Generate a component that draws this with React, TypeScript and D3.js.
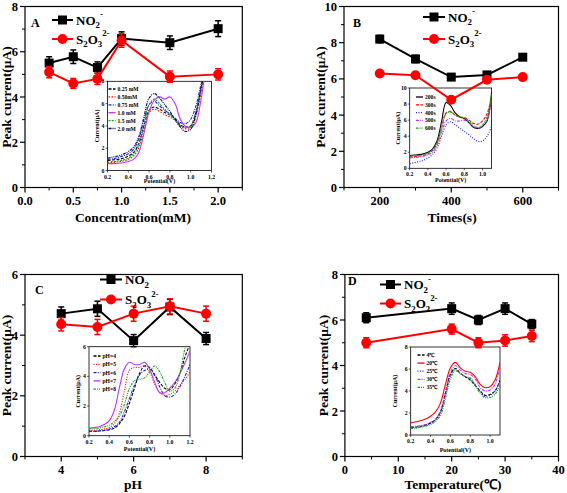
import React from "react";
import * as d3 from "d3";

// ---------- main panel data ----------
const concX = [0.25, 0.5, 0.75, 1.0, 1.5, 2.0];
const concNO2 = [5.5, 5.78, 5.3, 6.58, 6.4, 7.02];
const concNO2Err = [0.28, 0.3, 0.25, 0.3, 0.3, 0.35];
const concS2O3 = [5.1, 4.6, 4.8, 6.5, 4.9, 5.0];
const concS2O3Err = [0.25, 0.22, 0.25, 0.3, 0.25, 0.25];

const timeX = [200, 300, 400, 500, 600];
const timeNO2 = [8.2, 7.1, 6.1, 6.22, 7.2];
const timeNO2Err = [0.2, 0.2, 0.15, 0.15, 0.15];
const timeS2O3 = [6.3, 6.2, 4.85, 5.95, 6.1];
const timeS2O3Err = [0.12, 0.12, 0.15, 0.12, 0.12];

const phX = [4, 5, 6, 7, 8];
const phNO2 = [4.71, 4.87, 3.82, 4.93, 3.89];
const phNO2Err = [0.22, 0.25, 0.2, 0.25, 0.2];
const phS2O3 = [4.36, 4.27, 4.71, 4.95, 4.71];
const phS2O3Err = [0.22, 0.25, 0.25, 0.25, 0.25];

const tempX = [4, 20, 25, 30, 35];
const tempNO2 = [6.1, 6.5, 6.0, 6.5, 5.82];
const tempNO2Err = [0.22, 0.25, 0.2, 0.25, 0.2];
const tempS2O3 = [5.0, 5.6, 5.0, 5.1, 5.3];
const tempS2O3Err = [0.22, 0.22, 0.22, 0.25, 0.25];

// ---------- tick labels ----------
const concTicks = [0, 0.5, 1.0, 1.5, 2.0];
const timeTicks = [200, 400, 600];
const phTicks = [4, 6, 8];
const tempTicks = [0, 10, 20, 30, 40];

// ---------- inset data ----------
const gridA = [0.2, 0.25, 0.3, 0.35, 0.4, 0.45, 0.5, 0.55, 0.6, 0.65, 0.7, 0.75, 0.8, 0.85, 0.9, 0.95, 1.0, 1.05, 1.1, 1.15, 1.2];
const gridB = [0.2, 0.25, 0.3, 0.35, 0.4, 0.45, 0.5, 0.55, 0.6, 0.65, 0.7, 0.75, 0.8, 0.85, 0.9, 0.95, 1.0, 1.05, 1.1];

const concLabels = ["0.25 mM", "0.50mM", "0.75 mM", "1.0 mM", "1.5 mM", "2.0 mM"];
const cv025 = [0.9, 0.95, 1.0, 1.1, 1.3, 1.6, 2.4, 4.0, 5.4, 5.7, 5.5, 5.2, 5.0, 4.6, 4.1, 3.9, 4.0, 5.2, 7.3, 10, 12];
const cv050 = [0.7, 0.72, 0.78, 0.85, 1.0, 1.3, 2.0, 3.6, 5.2, 5.5, 5.3, 5.0, 4.8, 4.5, 4.0, 3.75, 3.8, 4.9, 7.0, 9.5, 12];
const cv075 = [1.0, 1.05, 1.15, 1.3, 1.5, 1.9, 2.8, 4.5, 5.9, 6.2, 5.8, 5.4, 5.1, 4.7, 4.3, 4.2, 4.6, 5.8, 7.8, 10, 12];
const cv100 = [0.6, 0.62, 0.65, 0.7, 0.8, 1.0, 1.6, 3.3, 5.3, 6.3, 6.6, 6.4, 6.6, 6.0, 4.6, 3.95, 3.85, 4.3, 6.4, 9.5, 12];
const cv150 = [0.75, 0.8, 0.85, 0.95, 1.1, 1.5, 2.3, 4.0, 5.9, 6.4, 6.0, 5.5, 5.0, 4.5, 4.0, 3.85, 4.0, 5.3, 7.6, 10, 12];
const cv200 = [1.1, 1.2, 1.3, 1.45, 1.7, 2.1, 3.0, 4.8, 6.5, 6.9, 6.5, 5.9, 5.3, 4.6, 3.9, 3.5, 3.7, 5.0, 7.5, 10, 12];

const timeLabels = ["200s", "300s", "400s", "500s", "600s"];
const cv200s = [1.6, 1.65, 1.7, 1.8, 2.0, 2.4, 3.4, 5.8, 8.2, 7.8, 6.9, 6.4, 6.2, 5.7, 5.1, 4.95, 5.2, 5.9, 9.5];
const cv300s = [1.4, 1.45, 1.5, 1.6, 1.8, 2.2, 3.1, 5.0, 6.9, 7.1, 6.6, 6.4, 6.3, 6.0, 5.6, 5.5, 5.9, 6.8, 9.0];
const cv400s = [0.6, 0.7, 0.85, 1.0, 1.3, 1.7, 2.5, 4.0, 5.4, 5.8, 5.4, 5.0, 4.6, 4.2, 3.7, 3.35, 3.4, 4.0, 5.2];
const cv500s = [1.3, 1.35, 1.4, 1.5, 1.7, 2.0, 2.8, 4.4, 5.9, 6.2, 5.9, 5.9, 6.0, 5.7, 5.2, 5.0, 5.3, 6.0, 8.5];
const cv600s = [1.5, 1.55, 1.6, 1.7, 1.9, 2.3, 3.2, 5.0, 6.8, 7.0, 6.6, 6.4, 6.3, 5.9, 5.3, 5.1, 5.4, 6.4, 9.2];

const phLabels = ["pH=4", "pH=5", "pH=6", "pH=7", "pH=8"];
const cvPH4 = [0.3, 0.3, 0.32, 0.35, 0.4, 0.5, 0.8, 1.3, 2.2, 3.2, 4.2, 4.7, 4.6, 4.1, 3.6, 3.2, 3.1, 3.5, 4.2, 5.3, 6.2];
const cvPH5 = [0.35, 0.37, 0.4, 0.45, 0.55, 0.8, 1.5, 3.0, 4.4, 4.6, 4.6, 4.7, 4.3, 3.5, 2.9, 2.7, 2.8, 3.0, 3.4, 3.8, 4.3];
const cvPH6 = [0.3, 0.3, 0.32, 0.36, 0.45, 0.6, 0.9, 1.6, 2.5, 3.4, 4.1, 4.4, 4.5, 4.1, 3.3, 2.7, 2.6, 2.8, 3.3, 4.0, 4.8];
const cvPH7 = [0.5, 0.55, 0.6, 0.75, 1.0, 1.7, 3.2, 4.5, 4.95, 4.8, 4.8, 4.95, 4.5, 3.6, 2.9, 2.9, 3.2, 3.6, 4.2, 4.9, 5.7];
const cvPH8 = [0.45, 0.48, 0.52, 0.6, 0.7, 0.95, 1.3, 2.1, 3.2, 3.7, 3.8, 3.9, 4.3, 4.7, 4.3, 3.6, 3.0, 3.2, 4.2, 5.9, 7.0];

const tempLabels = ["4℃", "20℃", "25℃", "30℃", "35℃"];
const cvT4 = [0.7, 0.72, 0.8, 0.9, 1.1, 1.4, 2.1, 3.8, 5.5, 6.05, 5.6, 5.3, 5.0, 4.5, 4.0, 3.6, 3.7, 4.0, 5.0];
const cvT20 = [1.1, 1.2, 1.3, 1.45, 1.7, 2.1, 2.9, 4.6, 6.1, 6.6, 6.1, 5.8, 5.7, 5.3, 4.6, 4.3, 4.4, 5.0, 6.6];
const cvT25 = [0.65, 0.7, 0.75, 0.85, 1.05, 1.35, 2.0, 3.6, 5.4, 6.0, 5.6, 5.3, 5.1, 4.6, 4.0, 3.5, 3.6, 4.0, 4.9];
const cvT30 = [0.75, 0.8, 0.85, 0.95, 1.15, 1.45, 2.2, 3.9, 5.7, 6.3, 5.9, 5.6, 5.5, 5.1, 4.3, 4.0, 4.1, 4.6, 6.3];
const cvT35 = [0.6, 0.62, 0.7, 0.8, 0.95, 1.25, 1.8, 3.3, 5.1, 5.85, 5.6, 5.3, 5.2, 4.5, 3.8, 3.4, 3.4, 3.7, 4.5];

// ---------- styles ----------
const FONT = "'Liberation Serif', 'Times New Roman', serif";
const RED = "#ff0000";
const BLUE = "#2222dd";
const PURPLE = "#bb33ff";
const GREEN = "#11aa11";
const NAVY = "#000080";

type Curve = { y: number[]; color: string; dash: string; label: string; w?: number };

function NO2Label({ x, y, fs }: { x: number; y: number; fs: number }) {
  const s = fs * 0.68;
  return (
    <text x={x} y={y} fontSize={fs} fontWeight="bold" fontFamily={FONT}>
      NO
      <tspan fontSize={s} dy={fs * 0.3}>2</tspan>
      <tspan fontSize={s} dy={-fs * 0.85}>-</tspan>
    </text>
  );
}

function S2O3Label({ x, y, fs }: { x: number; y: number; fs: number }) {
  const s = fs * 0.68;
  return (
    <text x={x} y={y} fontSize={fs} fontWeight="bold" fontFamily={FONT}>
      S
      <tspan fontSize={s} dy={fs * 0.3}>2</tspan>
      <tspan dy={-fs * 0.3}>O</tspan>
      <tspan fontSize={s} dy={fs * 0.3}>3</tspan>
      <tspan fontSize={s} dy={-fs * 0.85}>2-</tspan>
    </text>
  );
}

type PanelProps = {
  id: string;
  letter: string;
  box: [number, number, number, number]; // left, top, right, bottom
  xDomain: [number, number];
  yDomain: [number, number];
  xTicks: number[];
  xMinor: number[];
  xFmt: (v: number) => string;
  yTicks: number[];
  yMinor: number[];
  xs: number[];
  no2: number[];
  no2e: number[];
  s2o3: number[];
  s2o3e: number[];
  xLabel: string;
  xLabelPos: [number, number];
  yLabelX: number;
  letterPos: [number, number];
  legend: { lx: number; y1: number; y2: number; len: number };
  inset: {
    box: [number, number, number, number];
    xDomain: [number, number];
    yMax: number;
    xTicks: number[];
    yTicks: number[];
    grid: number[];
    curves: Curve[];
    legX: number;
    legY: number;
    legDy: number;
    yLabX: number;
    xLabY: number;
  };
};

function Panel(p: PanelProps) {
  const [l, t, r, b] = p.box;
  const x = d3.scaleLinear().domain(p.xDomain).range([l, r]);
  const y = d3.scaleLinear().domain(p.yDomain).range([b, t]);
  const line = d3.line<[number, number]>().x((d) => x(d[0])).y((d) => y(d[1]));

  const ins = p.inset;
  const [il, it, ir, ib] = ins.box;
  const ix = d3.scaleLinear().domain(ins.xDomain).range([il, ir]);
  const iy = d3.scaleLinear().domain([0, ins.yMax]).range([ib, it]);
  const iline = d3
    .line<number>()
    .x((_, i) => ix(ins.grid[i]))
    .y((d) => iy(d))
    .curve(d3.curveCatmullRom.alpha(0.5));
  const clipId = `clip-${p.id}`;

  const series = [
    { v: p.no2, e: p.no2e, color: "#000", shape: "square" },
    { v: p.s2o3, e: p.s2o3e, color: RED, shape: "circle" },
  ];

  return (
    <g>
      {/* frame */}
      <rect x={l} y={t} width={r - l} height={b - t} fill="none" stroke="#000" strokeWidth={1.2} />
      {/* x ticks */}
      {p.xTicks.map((v) => (
        <g key={"xt" + v}>
          <line x1={x(v)} x2={x(v)} y1={b} y2={b + 5} stroke="#000" strokeWidth={1.2} />
          <text x={x(v)} y={b + 17} textAnchor="middle" fontSize={12.5} fontWeight="bold" fontFamily={FONT}>
            {p.xFmt(v)}
          </text>
        </g>
      ))}
      {p.xMinor.map((v) => (
        <line key={"xm" + v} x1={x(v)} x2={x(v)} y1={b} y2={b + 3} stroke="#000" strokeWidth={1} />
      ))}
      {/* y ticks */}
      {p.yTicks.map((v) => (
        <g key={"yt" + v}>
          <line x1={l - 5} x2={l} y1={y(v)} y2={y(v)} stroke="#000" strokeWidth={1.2} />
          <text x={l - 7} y={y(v) + 4.5} textAnchor="end" fontSize={12.5} fontWeight="bold" fontFamily={FONT}>
            {v}
          </text>
        </g>
      ))}
      {p.yMinor.map((v) => (
        <line key={"ym" + v} x1={l - 3} x2={l} y1={y(v)} y2={y(v)} stroke="#000" strokeWidth={1} />
      ))}
      {/* axis labels */}
      <text x={p.xLabelPos[0]} y={p.xLabelPos[1]} textAnchor="middle" fontSize={13.5} fontWeight="bold" fontFamily={FONT}>
        {p.xLabel}
      </text>
      <text
        transform={`translate(${p.yLabelX},${(t + b) / 2}) rotate(-90)`}
        textAnchor="middle"
        fontSize={13.5}
        fontWeight="bold"
        fontFamily={FONT}
      >
        Peak current(μA)
      </text>
      <text x={p.letterPos[0]} y={p.letterPos[1]} fontSize={12} fontWeight="bold" fontFamily={FONT}>
        {p.letter}
      </text>

      {/* inset */}
      <defs>
        <clipPath id={clipId}>
          <rect x={il} y={it} width={ir - il} height={ib - it} />
        </clipPath>
      </defs>
      <rect x={il} y={it} width={ir - il} height={ib - it} fill="#fff" stroke="#000" strokeWidth={0.8} />
      <g clipPath={`url(#${clipId})`}>
        {ins.curves.map((c, i) => (
          <path key={"c" + i} d={iline(c.y) || ""} fill="none" stroke={c.color} strokeWidth={c.w ?? 1.1} strokeDasharray={c.dash} />
        ))}
      </g>
      {ins.xTicks.map((v) => (
        <g key={"ixt" + v}>
          <line x1={ix(v)} x2={ix(v)} y1={ib} y2={ib + 2} stroke="#000" strokeWidth={0.6} />
          <text x={ix(v)} y={ib + 8} textAnchor="middle" fontSize={5.8} fontWeight="bold" fontFamily={FONT}>
            {v.toFixed(1)}
          </text>
        </g>
      ))}
      {ins.yTicks.map((v) => (
        <g key={"iyt" + v}>
          <line x1={il - 2} x2={il} y1={iy(v)} y2={iy(v)} stroke="#000" strokeWidth={0.6} />
          <text x={il - 3} y={iy(v) + 2} textAnchor="end" fontSize={5.8} fontWeight="bold" fontFamily={FONT}>
            {v}
          </text>
        </g>
      ))}
      <text x={(il + ir) / 2} y={ins.xLabY} textAnchor="middle" fontSize={6} fontWeight="bold" fontFamily={FONT}>
        Potential(V)
      </text>
      <text
        transform={`translate(${ins.yLabX},${(it + ib) / 2}) rotate(-90)`}
        textAnchor="middle"
        fontSize={6}
        fontWeight="bold"
        fontFamily={FONT}
      >
        Current(μA)
      </text>
      {ins.curves.map((c, i) => (
        <g key={"lg" + i}>
          <line
            x1={ins.legX}
            x2={ins.legX + 7}
            y1={ins.legY + i * ins.legDy}
            y2={ins.legY + i * ins.legDy}
            stroke={c.color}
            strokeWidth={1.3}
            strokeDasharray={c.dash}
          />
          <text x={ins.legX + 9} y={ins.legY + i * ins.legDy + 2} fontSize={5.6} fontWeight="bold" fontFamily={FONT}>
            {c.label}
          </text>
        </g>
      ))}

      {/* main series */}
      {series.map((s, si) => (
        <g key={"s" + si}>
          <path
            d={line(p.xs.map((xv, i) => [xv, s.v[i]] as [number, number])) || ""}
            fill="none"
            stroke={s.color}
            strokeWidth={2}
          />
          {p.xs.map((xv, i) => {
            const cx = x(xv);
            const y1 = y(s.v[i] - s.e[i]);
            const y2 = y(s.v[i] + s.e[i]);
            return (
              <g key={"e" + i}>
                <line x1={cx} x2={cx} y1={y1} y2={y2} stroke={s.color} strokeWidth={1.5} />
                <line x1={cx - 3} x2={cx + 3} y1={y1} y2={y1} stroke={s.color} strokeWidth={1.5} />
                <line x1={cx - 3} x2={cx + 3} y1={y2} y2={y2} stroke={s.color} strokeWidth={1.5} />
                {s.shape === "square" ? (
                  <rect x={cx - 4.5} y={y(s.v[i]) - 4.5} width={9} height={9} fill={s.color} />
                ) : (
                  <circle cx={cx} cy={y(s.v[i])} r={5} fill={s.color} />
                )}
              </g>
            );
          })}
        </g>
      ))}

      {/* main legend */}
      {[p.legend.y1, p.legend.y2].map((ly, i) => {
        const c = i === 0 ? "#000" : RED;
        const mid = p.legend.lx + p.legend.len / 2;
        return (
          <g key={"ml" + i}>
            <line x1={p.legend.lx} x2={p.legend.lx + p.legend.len} y1={ly} y2={ly} stroke={c} strokeWidth={2} />
            {i === 0 ? (
              <rect x={mid - 4.5} y={ly - 4.5} width={9} height={9} fill={c} />
            ) : (
              <circle cx={mid} cy={ly} r={5} fill={c} />
            )}
          </g>
        );
      })}
      <NO2Label x={p.legend.lx + p.legend.len + 3} y={p.legend.y1 + 4.5} fs={13} />
      <S2O3Label x={p.legend.lx + p.legend.len + 3} y={p.legend.y2 + 4.5} fs={13} />
    </g>
  );
}

const range = (a: number, b: number, s: number) => d3.range(a, b + s / 2, s);

export default function App() {
  return (
    <svg width={567} height={493} style={{ display: "block", position: "absolute", left: 0, top: 0, background: "#fff" }}>
      <Panel
        id="A"
        letter="A"
        box={[25, 6.5, 242.3, 187.5]}
        xDomain={[0, 2.25]}
        yDomain={[0, 8]}
        xTicks={concTicks}
        xMinor={[0.25, 0.75, 1.25, 1.75, 2.25]}
        xFmt={(v) => v.toFixed(1)}
        yTicks={[0, 2, 4, 6, 8]}
        yMinor={[1, 3, 5, 7]}
        xs={concX}
        no2={concNO2}
        no2e={concNO2Err}
        s2o3={concS2O3}
        s2o3e={concS2O3Err}
        xLabel="Concentration(mM)"
        xLabelPos={[133, 222]}
        yLabelX={11}
        letterPos={[31, 27]}
        legend={{ lx: 52, y1: 20, y2: 39, len: 21 }}
        inset={{
          box: [107.5, 81.3, 211.5, 170.5],
          xDomain: [0.2, 1.2],
          yMax: 8,
          xTicks: range(0.2, 1.2, 0.2),
          yTicks: [0, 2, 4, 6, 8],
          grid: gridA,
          curves: [
            { y: cv025, color: "#000", dash: "3,1.5", label: concLabels[0] },
            { y: cv050, color: RED, dash: "1.5,1.5", label: concLabels[1] },
            { y: cv075, color: BLUE, dash: "3,1.2,1,1.2", label: concLabels[2] },
            { y: cv100, color: PURPLE, dash: "", label: concLabels[3] },
            { y: cv150, color: GREEN, dash: "2,1.2", label: concLabels[4] },
            { y: cv200, color: NAVY, dash: "3,1,1,1,1,1", label: concLabels[5] },
          ],
          legX: 108.5,
          legY: 89,
          legDy: 7.9,
          yLabX: 99,
          xLabY: 183,
        }}
      />
      <Panel
        id="B"
        letter="B"
        box={[344, 6.5, 558.5, 187.5]}
        xDomain={[100, 700]}
        yDomain={[0, 10]}
        xTicks={timeTicks}
        xMinor={[100, 300, 500, 700]}
        xFmt={(v) => String(v)}
        yTicks={[0, 2, 4, 6, 8, 10]}
        yMinor={[1, 3, 5, 7, 9]}
        xs={timeX}
        no2={timeNO2}
        no2e={timeNO2Err}
        s2o3={timeS2O3}
        s2o3e={timeS2O3Err}
        xLabel="Times(s)"
        xLabelPos={[452, 222]}
        yLabelX={325}
        letterPos={[353, 27]}
        legend={{ lx: 423, y1: 17, y2: 39, len: 22 }}
        inset={{
          box: [409.7, 88, 491.6, 168.3],
          xDomain: [0.2, 1.1],
          yMax: 10,
          xTicks: range(0.2, 1.0, 0.2),
          yTicks: [0, 2, 4, 6, 8, 10],
          grid: gridB,
          curves: [
            { y: cv200s, color: "#000", dash: "", label: timeLabels[0] },
            { y: cv300s, color: RED, dash: "3,1.5", label: timeLabels[1] },
            { y: cv400s, color: BLUE, dash: "1,1.5", label: timeLabels[2] },
            { y: cv500s, color: PURPLE, dash: "3,1.2,1,1.2", label: timeLabels[3] },
            { y: cv600s, color: GREEN, dash: "2.5,1,1,1,1,1", label: timeLabels[4] },
          ],
          legX: 416,
          legY: 97,
          legDy: 7.8,
          yLabX: 400,
          xLabY: 182,
        }}
      />
      <Panel
        id="C"
        letter="C"
        box={[25, 274.5, 242.3, 456.5]}
        xDomain={[3, 9]}
        yDomain={[0, 6]}
        xTicks={phTicks}
        xMinor={[3, 5, 7, 9]}
        xFmt={(v) => String(v)}
        yTicks={[0, 2, 4, 6]}
        yMinor={[1, 3, 5]}
        xs={phX}
        no2={phNO2}
        no2e={phNO2Err}
        s2o3={phS2O3}
        s2o3e={phS2O3Err}
        xLabel="pH"
        xLabelPos={[133, 489]}
        yLabelX={11}
        letterPos={[35, 294]}
        legend={{ lx: 100, y1: 279.5, y2: 299.5, len: 22 }}
        inset={{
          box: [89, 346.7, 190, 435.7],
          xDomain: [0.2, 1.2],
          yMax: 6,
          xTicks: range(0.2, 1.2, 0.2),
          yTicks: [0, 2, 4, 6],
          grid: gridA,
          curves: [
            { y: cvPH4, color: "#000", dash: "3,1.5", label: phLabels[0] },
            { y: cvPH5, color: RED, dash: "1,1.5", label: phLabels[1] },
            { y: cvPH6, color: BLUE, dash: "3,1.2,1,1.2", label: phLabels[2] },
            { y: cvPH7, color: PURPLE, dash: "", label: phLabels[3] },
            { y: cvPH8, color: GREEN, dash: "2.5,1,1,1,1,1", label: phLabels[4] },
          ],
          legX: 93.5,
          legY: 356,
          legDy: 8.3,
          yLabX: 80,
          xLabY: 451,
        }}
      />
      <Panel
        id="D"
        letter="D"
        box={[344.9, 274.5, 558.5, 456.5]}
        xDomain={[0, 40]}
        yDomain={[0, 8]}
        xTicks={tempTicks}
        xMinor={[5, 15, 25, 35]}
        xFmt={(v) => String(v)}
        yTicks={[0, 2, 4, 6, 8]}
        yMinor={[1, 3, 5, 7]}
        xs={tempX}
        no2={tempNO2}
        no2e={tempNO2Err}
        s2o3={tempS2O3}
        s2o3e={tempS2O3Err}
        xLabel="Temperature(℃)"
        xLabelPos={[453, 489]}
        yLabelX={328}
        letterPos={[348, 285]}
        legend={{ lx: 380, y1: 284.5, y2: 303.5, len: 21 }}
        inset={{
          box: [410.7, 347, 500, 435],
          xDomain: [0.2, 1.1],
          yMax: 8,
          xTicks: range(0.2, 1.0, 0.2),
          yTicks: [0, 2, 4, 6, 8],
          grid: gridB,
          curves: [
            { y: cvT4, color: "#000", dash: "3,1.5", label: tempLabels[0] },
            { y: cvT20, color: RED, dash: "", label: tempLabels[1] },
            { y: cvT25, color: BLUE, dash: "1,1.5", label: tempLabels[2] },
            { y: cvT30, color: PURPLE, dash: "3,1.2,1,1.2", label: tempLabels[3] },
            { y: cvT35, color: GREEN, dash: "2.5,1,1,1,1,1", label: tempLabels[4] },
          ],
          legX: 417.5,
          legY: 355,
          legDy: 8.1,
          yLabX: 397,
          xLabY: 452,
        }}
      />
    </svg>
  );
}
